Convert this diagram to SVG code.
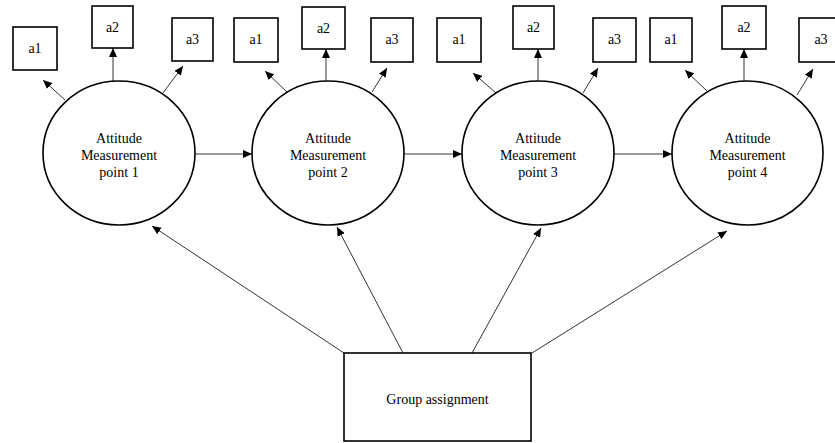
<svg xmlns="http://www.w3.org/2000/svg" width="835" height="443" viewBox="0 0 835 443">
  <style>
    .box { fill: #fff; stroke: #000; stroke-width: 1.6; }
    .latent { fill: #fff; stroke: #000; stroke-width: 1.6; }
    .lbl { font-family: "Liberation Serif", "Times New Roman", serif; font-size: 14px; fill: #000; text-anchor: middle; }
    .edge { stroke: #333; stroke-width: 1; fill: none; marker-end: url(#arrow); }
  </style>
  <defs>
    <marker id="arrow" markerUnits="userSpaceOnUse" markerWidth="10" markerHeight="8" refX="9" refY="4" orient="auto">
      <path d="M0,0 L9,4 L0,8 Z" fill="#000"/>
    </marker>
  </defs>
  <rect width="835" height="443" fill="#fff"/>

  <!-- connectors -->
  <g id="connectors">
    <!-- latent to indicators -->
    <line class="edge" x1="65" y1="100" x2="43" y2="80"/>
    <line class="edge" x1="113" y1="81" x2="113" y2="48"/>
    <line class="edge" x1="163" y1="93" x2="183" y2="66"/>

    <line class="edge" x1="287" y1="92" x2="265" y2="71"/>
    <line class="edge" x1="326" y1="81" x2="326" y2="49"/>
    <line class="edge" x1="372" y1="92" x2="387" y2="68"/>

    <line class="edge" x1="496" y1="93" x2="473" y2="73"/>
    <line class="edge" x1="538" y1="81" x2="538" y2="49"/>
    <line class="edge" x1="583" y1="93" x2="598" y2="68"/>

    <line class="edge" x1="708" y1="92" x2="685" y2="70"/>
    <line class="edge" x1="744" y1="81" x2="744" y2="49"/>
    <line class="edge" x1="797" y1="95" x2="813" y2="69"/>

    <!-- measurement point chain -->
    <line class="edge" x1="195" y1="154" x2="252" y2="154"/>
    <line class="edge" x1="404" y1="154" x2="462" y2="154"/>
    <line class="edge" x1="614" y1="154" x2="672" y2="154"/>

    <!-- group assignment effects -->
    <line class="edge" x1="344" y1="353" x2="152" y2="226"/>
    <line class="edge" x1="403" y1="353" x2="337" y2="227"/>
    <line class="edge" x1="472" y1="353" x2="541" y2="228"/>
    <line class="edge" x1="532" y1="353" x2="727" y2="231"/>
  </g>

  <!-- measurement point 1 -->
  <g id="m1">
    <ellipse class="latent" cx="119" cy="153" rx="76" ry="72"/>
    <text class="lbl" x="119" y="143">Attitude</text>
    <text class="lbl" x="119" y="160">Measurement</text>
    <text class="lbl" x="119" y="177">point 1</text>
  </g>
  <g id="m1_a1"><rect class="box" x="13" y="27" width="44" height="43"/><text class="lbl" x="35" y="53">a1</text></g>
  <g id="m1_a2"><rect class="box" x="92" y="6" width="41" height="42"/><text class="lbl" x="112.5" y="32">a2</text></g>
  <g id="m1_a3"><rect class="box" x="172" y="18" width="41" height="43"/><text class="lbl" x="192.5" y="44">a3</text></g>

  <!-- measurement point 2 -->
  <g id="m2">
    <ellipse class="latent" cx="328" cy="153" rx="76" ry="72"/>
    <text class="lbl" x="328" y="143">Attitude</text>
    <text class="lbl" x="328" y="160">Measurement</text>
    <text class="lbl" x="328" y="177">point 2</text>
  </g>
  <g id="m2_a1"><rect class="box" x="234" y="18" width="44" height="44"/><text class="lbl" x="256" y="44">a1</text></g>
  <g id="m2_a2"><rect class="box" x="302" y="7" width="43" height="42"/><text class="lbl" x="323.5" y="33">a2</text></g>
  <g id="m2_a3"><rect class="box" x="371" y="18" width="42" height="44"/><text class="lbl" x="392" y="44">a3</text></g>

  <!-- measurement point 3 -->
  <g id="m3">
    <ellipse class="latent" cx="538" cy="153" rx="76" ry="72"/>
    <text class="lbl" x="538" y="143">Attitude</text>
    <text class="lbl" x="538" y="160">Measurement</text>
    <text class="lbl" x="538" y="177">point 3</text>
  </g>
  <g id="m3_a1"><rect class="box" x="437" y="18" width="44" height="44"/><text class="lbl" x="459" y="44">a1</text></g>
  <g id="m3_a2"><rect class="box" x="513" y="6" width="41" height="43"/><text class="lbl" x="533.5" y="32">a2</text></g>
  <g id="m3_a3"><rect class="box" x="593" y="18" width="43" height="44"/><text class="lbl" x="614.5" y="44">a3</text></g>

  <!-- measurement point 4 -->
  <g id="m4">
    <ellipse class="latent" cx="747.5" cy="153" rx="75.5" ry="72"/>
    <text class="lbl" x="747.5" y="143">Attitude</text>
    <text class="lbl" x="747.5" y="160">Measurement</text>
    <text class="lbl" x="747.5" y="177">point 4</text>
  </g>
  <g id="m4_a1"><rect class="box" x="650" y="18" width="42" height="44"/><text class="lbl" x="671" y="44">a1</text></g>
  <g id="m4_a2"><rect class="box" x="722" y="6" width="44" height="43"/><text class="lbl" x="744" y="32">a2</text></g>
  <g id="m4_a3"><rect class="box" x="799" y="18" width="44" height="44"/><text class="lbl" x="821" y="44">a3</text></g>

  <!-- group assignment -->
  <g id="group">
    <rect class="box" x="344" y="353" width="187" height="88"/>
    <text class="lbl" x="437.5" y="404">Group assignment</text>
  </g>
</svg>
